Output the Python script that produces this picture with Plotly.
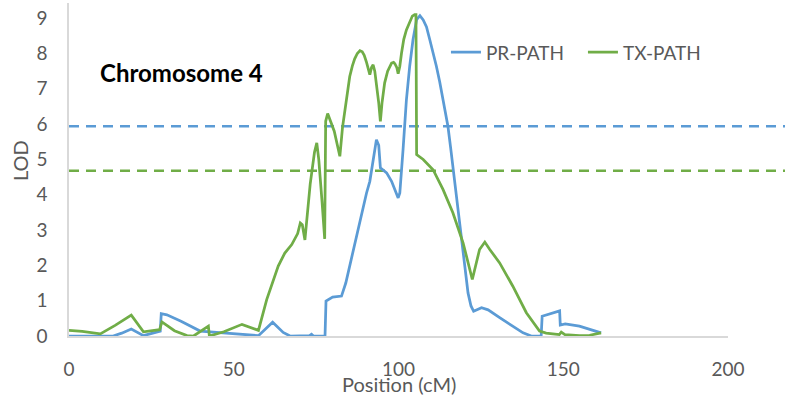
import plotly.graph_objects as go

# ---- data ----
pr_x = [0, 13.4, 16, 18.9, 22.6, 27.7, 28.0, 29.7, 34, 39.8, 43.8, 49.9, 57.5, 61.8, 65, 67.1,
        73.0, 73.6, 74.2, 77.7, 78.0, 80, 81.7, 82.7, 84, 86.2, 88.0, 89.3, 90.3, 91.3, 92.3,
        93.3, 94.0, 94.5, 96.4, 97.9, 99.9, 100.4, 101.4, 102.4, 103.4, 104.4, 105.5, 106.5,
        107.5, 108.5, 109.5, 110.5, 111.5, 112.5, 113.5, 114.3, 115.0, 115.8, 116.5, 117.3,
        118.1, 118.9, 119.6, 120.4, 121.1, 122.0, 122.8, 125.2, 127.2, 130.7, 134.7, 137.8,
        140.3, 143.3, 143.6, 148.9, 149.1, 150.6, 154.9, 158, 161.5]
pr_y = [0, 0.0, 0.08, 0.2, 0.01, 0.14, 0.63, 0.6, 0.42, 0.14, 0.11, 0.06, 0.01, 0.39, 0.1, 0.0,
        0.01, 0.05, 0.0, 0.0, 0.99, 1.1, 1.13, 1.13, 1.5, 2.4, 3.1, 3.67, 4.05, 4.38, 5.0,
        5.56, 5.4, 4.76, 4.62, 4.38, 3.91, 4.05, 5.3, 6.69, 7.64, 8.39, 8.96, 9.07,
        8.95, 8.75, 8.39, 8.05, 7.64, 7.2, 6.69, 6.3, 5.94, 5.35, 4.8, 4.25,
        3.67, 3.0, 2.35, 1.75, 1.22, 0.85, 0.70, 0.80, 0.74, 0.52, 0.28, 0.09,
        0.0, 0.0, 0.56, 0.71, 0.31, 0.34, 0.28, 0.2, 0.09]

tx_x = [0, 4, 9.5, 14, 18.9, 22.6, 27.5, 28.2, 32, 35.8, 37.8, 42.3, 42.6, 47, 52.5, 57.5,
        60, 63.5, 65.5, 67.6, 69.4, 70.2, 70.8, 71.6, 73.2, 74.5, 75.2, 75.8, 76.8, 77.6,
        77.9, 78.5, 80.5, 82.2, 83.0, 83.7, 84.5, 85.2, 86.0, 86.7, 87.5, 88.3, 89.0, 89.6,
        90.3, 91.0, 91.3, 91.8, 92.3, 92.8, 93.4, 94.0, 94.5, 95.0, 95.8, 96.7, 97.9, 98.5,
        98.9, 99.5, 99.9, 100.4, 100.9, 101.6, 102.4, 103.4, 104.2, 104.9, 105.3, 105.5,
        107.5, 110.5, 113.5, 116.5, 119.6, 122.4, 124.6, 126.2, 127.7, 130.7, 134.7, 138.8,
        142.8, 144.8, 148.8, 149.4, 150.5, 154.9, 158, 161.5]
tx_y = [0.16, 0.13, 0.06, 0.3, 0.59, 0.12, 0.18, 0.40, 0.15, 0.01, 0.0, 0.28, 0.0, 0.12, 0.33, 0.16,
        1.03, 1.98, 2.35, 2.59, 2.9, 3.2, 3.15, 2.72, 4.3, 5.2, 5.47, 5.0, 3.8, 2.75,
        6.08, 6.3, 5.8, 5.09, 5.9, 6.41, 6.95, 7.35, 7.65, 7.85, 8.0, 8.08, 8.05, 7.95,
        7.75, 7.5, 7.40, 7.6, 7.68, 7.5, 7.1, 6.6, 6.08, 6.6, 7.17, 7.5, 7.73, 7.75,
        7.71, 7.6, 7.43, 7.64, 8.0, 8.4, 8.67, 8.92, 9.06, 9.1, 9.1, 5.14,
        5.0, 4.71, 4.15, 3.49, 2.64, 1.6, 2.45, 2.66, 2.45, 2.07, 1.41, 0.66,
        0.14, 0.08, 0.04, 0.11, 0.04, 0.01, 0.02, 0.09]

thresholds = {"PR-PATH": 5.94, "TX-PATH": 4.68}
series_names = ["PR-PATH", "TX-PATH"]
colors = {"PR-PATH": "#5B9BD5", "TX-PATH": "#70AD47"}
x_ticks = [0, 50, 100, 150, 200]
y_ticks = list(range(0, 10))

FONT = "Lato"
GRAY = "#595959"

fig = go.Figure()
fig.add_trace(go.Scatter(x=pr_x, y=pr_y, mode="lines", name="PR-PATH",
                         line=dict(color=colors["PR-PATH"], width=2.75)))
fig.add_trace(go.Scatter(x=tx_x, y=tx_y, mode="lines", name="TX-PATH",
                         line=dict(color=colors["TX-PATH"], width=2.75)))

for name in series_names:
    fig.add_shape(type="line", xref="paper", yref="y", x0=0, x1=1.09,
                  y0=thresholds[name], y1=thresholds[name], layer="below",
                  line=dict(color=colors[name], width=2.5, dash="10px,7px"))

fig.update_layout(
    width=785, height=398,
    margin=dict(l=69, r=57, t=3, b=62),
    paper_bgcolor="white", plot_bgcolor="white",
    font=dict(family=FONT, color=GRAY, size=19),
    showlegend=True,
    legend=dict(orientation="h", x=0.572, y=0.852, xanchor="left", yanchor="middle",
                font=dict(family=FONT, size=19, color=GRAY),
                bgcolor="rgba(0,0,0,0)", itemwidth=30, entrywidth=92,
                tracegroupgap=0),
    xaxis=dict(range=[0, 200], tickvals=x_ticks, showgrid=False, zeroline=False,
               showline=True, linecolor="#D9D9D9", linewidth=1.5,
               ticks="", ticklabelstandoff=15,
               tickfont=dict(family=FONT, size=19, color=GRAY)),
    yaxis=dict(range=[0, 9.43], tickvals=y_ticks, showgrid=False, zeroline=False,
               showline=True, linecolor="#D9D9D9", linewidth=1.5,
               ticks="", ticklabelstandoff=16,
               tickfont=dict(family=FONT, size=19, color=GRAY)),
    annotations=[
        dict(text="Chromosome 4", xref="paper", yref="paper", x=(98 - 69) / 659,
             y=(336 - 72) / 333, xanchor="left", yanchor="middle", showarrow=False,
             font=dict(family=FONT, size=24, color="black", weight="bold")),
        dict(text="Position (cM)", xref="paper", yref="paper", x=(399 - 69) / 659,
             y=-(384 - 336) / 333, xanchor="center", yanchor="middle", showarrow=False,
             font=dict(family=FONT, size=20, color=GRAY)),
        dict(text="LOD", xref="paper", yref="paper", x=-(69 - 20) / 659,
             y=(336 - 161) / 333, xanchor="center", yanchor="middle", showarrow=False,
             textangle=-90, font=dict(family=FONT, size=20, color=GRAY)),
    ],
)

fig.write_html("out.html")
